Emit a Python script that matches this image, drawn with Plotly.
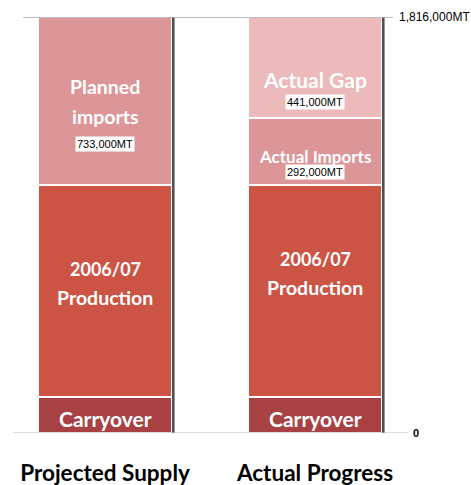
import plotly.graph_objects as go

# Supply scenarios (metric tonnes)
categories = ["Projected Supply", "Actual Progress"]
total_supply = 1816000
carryover = [157000, 157000]
production = [926000, 926000]
planned_imports = [733000, 0]
actual_imports = [0, 292000]
actual_gap = [0, 441000]

value_labels = {"planned": "733,000MT", "imports": "292,000MT", "gap": "441,000MT"}
top_label = "1,816,000MT"
zero_label = "0"

C_CARRY = "#A84144"
C_PROD = "#CC5445"
C_IMPORT = "#DC9698"
C_GAP = "#ECBABA"

BAR_W = 0.638
LABEL_FONT = "Lato"
VALUE_FONT = "Liberation Sans, Arial, sans-serif"

fig = go.Figure()
for name, vals, col in [
    ("Carryover", carryover, C_CARRY),
    ("2006/07 Production", production, C_PROD),
    ("Planned imports", planned_imports, C_IMPORT),
    ("Actual Imports", actual_imports, C_IMPORT),
    ("Actual Gap", actual_gap, C_GAP),
]:
    fig.add_trace(go.Bar(
        x=categories, y=vals, name=name, width=BAR_W,
        marker=dict(color=col, line=dict(color="white", width=1.5)),
        hoverinfo="skip",
    ))

# dark drop edge on the right side of each stacked bar
totals = [c + p + pi + ai + g for c, p, pi, ai, g in
          zip(carryover, production, planned_imports, actual_imports, actual_gap)]
for i, t in enumerate(totals):
    fig.add_shape(type="rect", xref="x", yref="y",
                  x0=i + BAR_W / 2, x1=i + BAR_W / 2 + 2.6 / 210,
                  y0=0, y1=t, fillcolor="#505050", line=dict(width=0), layer="above")

# reference lines at zero and at the total
fig.add_shape(type="line", xref="paper", yref="y", x0=23 / 471, x1=393 / 471,
              y0=total_supply, y1=total_supply, line=dict(color="#AAAAAA", width=1.5), layer="above")
fig.add_shape(type="line", xref="paper", yref="y", x0=13 / 471, x1=408 / 471,
              y0=0, y1=0, line=dict(color="#BBBBBB", width=1.2), layer="above")

fig.add_annotation(x=397 / 471, xref="paper", y=total_supply, yref="y", text=top_label,
                   showarrow=False, xanchor="left", yanchor="middle",
                   font=dict(family=VALUE_FONT, size=12, color="black"))
fig.add_annotation(x=411 / 471, xref="paper", y=0, yref="y", text="<b>" + zero_label + "</b>",
                   showarrow=False, xanchor="left", yanchor="middle",
                   font=dict(family=VALUE_FONT, size=11, color="black"))


def seg_label(i, base, height, text, shift, size=19.5):
    fig.add_annotation(x=categories[i], y=base + height / 2, text="<b>" + text + "</b>",
                       showarrow=False, yshift=shift, xanchor="center", yanchor="middle",
                       font=dict(family=LABEL_FONT, size=size, color="white"))


def value_box(i, base, height, text, shift):
    fig.add_annotation(x=categories[i], y=base + height / 2, text=text,
                       showarrow=False, yshift=shift, xanchor="center", yanchor="middle",
                       bgcolor="white", borderpad=1,
                       font=dict(family=VALUE_FONT, size=11, color="black"))


for i in range(2):
    seg_label(i, 0, carryover[i], "Carryover", -3, size=21)

# production labels
seg_label(0, carryover[0], production[0], "2006/07", 22, size=18)
seg_label(0, carryover[0], production[0], "Production", -7)
seg_label(1, carryover[1], production[1], "2006/07", 32, size=18)
seg_label(1, carryover[1], production[1], "Production", 3)

# planned imports
b0 = carryover[0] + production[0]
seg_label(0, b0, planned_imports[0], "Planned", 14)
seg_label(0, b0, planned_imports[0], "imports", -16)
value_box(0, b0, planned_imports[0], value_labels["planned"], -43)

# actual imports and gap
b1 = carryover[1] + production[1]
seg_label(1, b1, actual_imports[1], "Actual Imports", -5.5, size=17)
value_box(1, b1, actual_imports[1], value_labels["imports"], -20.5)
b2 = b1 + actual_imports[1]
seg_label(1, b2, actual_gap[1], "Actual Gap", -11.5, size=21)
value_box(1, b2, actual_gap[1], value_labels["gap"], -34.5)

fig.update_layout(
    barmode="stack",
    width=471, height=485,
    margin=dict(l=0, r=0, t=17, b=52),
    paper_bgcolor="white", plot_bgcolor="white",
    showlegend=False,
    xaxis=dict(range=[-0.5, 366 / 210], showgrid=False, zeroline=False, showline=False,
               ticks="", ticklabelstandoff=24,
               tickvals=categories, ticktext=["<b>" + c + "</b>" for c in categories],
               tickfont=dict(family=LABEL_FONT, size=22.5, color="black")),
    yaxis=dict(range=[0, total_supply], showgrid=False, zeroline=False, showline=False,
               showticklabels=False, ticks=""),
)

fig.write_html("out.html")
